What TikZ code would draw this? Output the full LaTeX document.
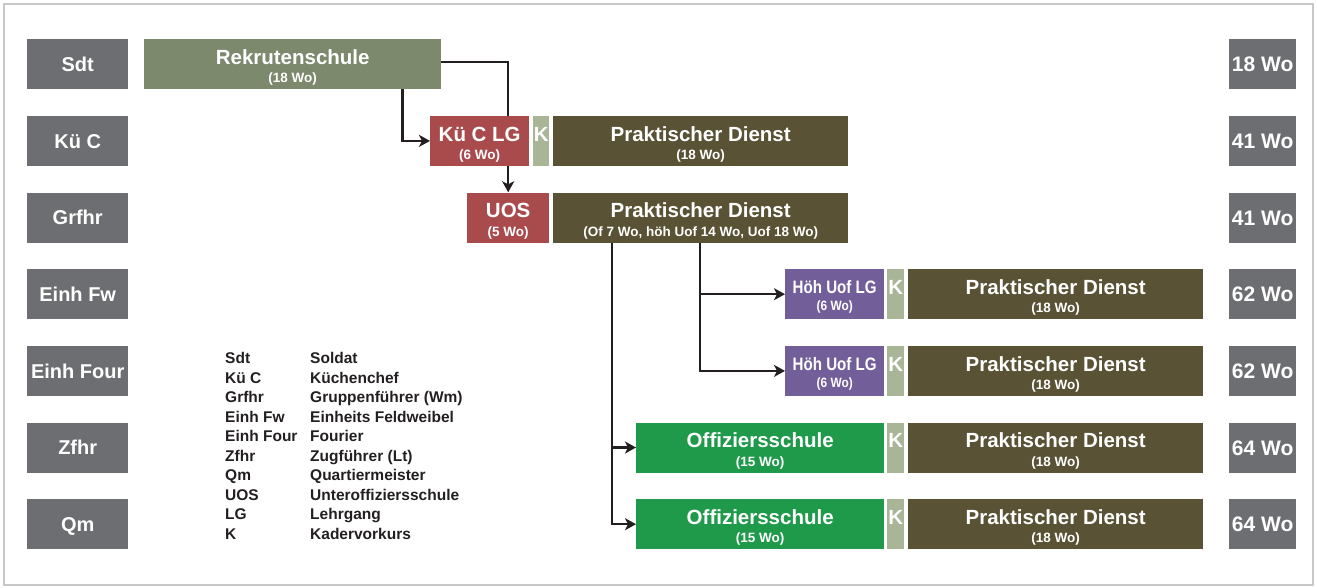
\documentclass[tikz,border=0pt]{standalone}
\usepackage{fontspec}
\setmainfont{Liberation Sans}
\usepackage{graphicx}
\usetikzlibrary{arrows.meta,backgrounds,calc}
\definecolor{lblgray}{HTML}{6D6E71}
\definecolor{rekcol}{HTML}{7D896D}
\definecolor{redcol}{HTML}{A94B4C}
\definecolor{kcol}{HTML}{A8B597}
\definecolor{pdcol}{HTML}{595235}
\definecolor{purcol}{HTML}{725E99}
\definecolor{grncol}{HTML}{1F9A4A}
\definecolor{framecol}{HTML}{C8C8C8}
\definecolor{arrcol}{HTML}{231F20}
\tikzset{
  box/.style={draw=none, inner sep=0pt, minimum height=50pt, anchor=north west},
  lbl/.style={box, fill=lblgray, text=white, font=\fontsize{20}{20}\selectfont\bfseries, text height=14.3pt, text depth=0pt},
  wolbl/.style={box, fill=lblgray, text=white, font=\fontsize{21}{21}\selectfont\bfseries, text height=15pt, text depth=0pt, minimum width=67pt},
  ttl/.style={inner sep=0pt, text=white, font=\fontsize{20.5}{20.5}\selectfont\bfseries, text height=14.7pt, text depth=0pt},
  ttlsmall/.style={inner sep=0pt, text=white, font=\fontsize{18}{18}\selectfont\bfseries, text height=12.9pt, text depth=0pt},
  subt/.style={inner sep=0pt, text=white, font=\fontsize{13.5}{13.5}\selectfont\bfseries, text height=9.7pt, text depth=0pt},
  subsmall/.style={inner sep=0pt, text=white, font=\fontsize{13.5}{13.5}\selectfont\bfseries, text height=9.7pt, text depth=0pt},
  leg/.style={inner sep=0pt, anchor=west, text=arrcol, font=\fontsize{15.5}{15.5}\selectfont\bfseries, text height=11.1pt, text depth=0pt},
  arr/.style={draw=arrcol, line width=2.3pt, -{Stealth[length=11pt,width=12pt,inset=3pt]}},
}
% name, x, top, width, colour, title, sub
\newcommand{\crsbox}[7]{%
  \node[box, fill=#5, minimum width=#4pt] (#1) at (#2,#3) {};
  \node[ttl] (#1t) at ([yshift=-18pt]#1.north) {#6};
  \node[subt] (#1s) at ([yshift=-39pt]#1.north) {#7};
}
\newcommand{\kbox}[4]{%
  \node[box, fill=kcol, minimum width=#4pt] (#1) at (#2,#3) {};
  \node[ttl] (#1t) at ([yshift=-18pt]#1.north) {K};
}
\newcommand{\hoehbox}[3]{%
  \node[box, fill=purcol, minimum width=99pt] (#1) at (#2,#3) {};
  \node[ttlsmall] (#1t) at ([yshift=-18pt]#1.north) {\scalebox{0.84}[1]{Höh Uof LG}};
  \node[subsmall] (#1s) at ([yshift=-37pt]#1.north) {\scalebox{0.88}[1]{(6 Wo)}};
}
\begin{document}
\begin{tikzpicture}[x=1pt,y=-1pt]
\useasboundingbox (0,0) rectangle (1317,587);
\draw[framecol, line width=2pt] (4,4) rectangle (1313,585);

% left labels
\node[lbl, minimum width=101pt] (lsdt) at (27,39) {Sdt};
\node[lbl, minimum width=101pt] (lkuc) at (27,115.7) {Kü C};
\node[lbl, minimum width=101pt] (lgrf) at (27,192.3) {Grfhr};
\node[lbl, minimum width=101pt] (lefw) at (27,269) {Einh Fw};
\node[lbl, minimum width=101pt] (lefo) at (27,345.7) {Einh Four};
\node[lbl, minimum width=101pt] (lzfh) at (27,422.3) {Zfhr};
\node[lbl, minimum width=101pt] (lqm) at (27,499) {Qm};

% right labels
\node[wolbl] (r1) at (1229,39) {18 Wo};
\node[wolbl] (r2) at (1229,115.7) {41 Wo};
\node[wolbl] (r3) at (1229,192.3) {41 Wo};
\node[wolbl] (r4) at (1229,269) {62 Wo};
\node[wolbl] (r5) at (1229,345.7) {62 Wo};
\node[wolbl] (r6) at (1229,422.3) {64 Wo};
\node[wolbl] (r7) at (1229,499) {64 Wo};

% row 0
\crsbox{rek}{144}{39}{297}{rekcol}{Rekrutenschule}{(18 Wo)}
% row 1
\crsbox{kuc}{430}{115.7}{99}{redcol}{Kü C LG}{(6 Wo)}
\kbox{k1}{533}{115.7}{16}
\crsbox{pd1}{553}{115.7}{295}{pdcol}{Praktischer Dienst}{(18 Wo)}
% row 2
\crsbox{uos}{467}{192.3}{82}{redcol}{UOS}{(5 Wo)}
\crsbox{pd2}{553}{192.3}{295}{pdcol}{Praktischer Dienst}{(Of 7 Wo, höh Uof 14 Wo, Uof 18 Wo)}
% rows 3,4
\hoehbox{hu1}{785}{269}
\kbox{k3}{887}{269}{17}
\crsbox{pd3}{908}{269}{295}{pdcol}{Praktischer Dienst}{(18 Wo)}
\hoehbox{hu2}{785}{345.7}
\kbox{k4}{887}{345.7}{17}
\crsbox{pd4}{908}{345.7}{295}{pdcol}{Praktischer Dienst}{(18 Wo)}
% rows 5,6
\crsbox{of1}{636}{422.3}{248}{grncol}{Offiziersschule}{(15 Wo)}
\kbox{k5}{887}{422.3}{17}
\crsbox{pd5}{908}{422.3}{295}{pdcol}{Praktischer Dienst}{(18 Wo)}
\crsbox{of2}{636}{499}{248}{grncol}{Offiziersschule}{(15 Wo)}
\kbox{k6}{887}{499}{17}
\crsbox{pd6}{908}{499}{295}{pdcol}{Praktischer Dienst}{(18 Wo)}

% connectors
\begin{scope}[on background layer]
\draw[arr] ([yshift=2pt]rek.east) -| (uos.north);
\end{scope}
\draw[arr] ([xshift=-39pt]rek.south east) |- (kuc.west);
\draw[arr] ([xshift=59pt]pd2.south west) |- (of1.west);
\draw[arr] ([xshift=59pt]pd2.south west) |- (of2.west);
\draw[arr] ([xshift=147pt]pd2.south west) |- (hu1.west);
\draw[arr] ([xshift=147pt]pd2.south west) |- (hu2.west);

% legend
\node[leg] (a1) at (225,358) {Sdt};       \node[leg] (b1) at (310,358) {Soldat};
\node[leg] (a2) at (225,377.5) {Kü C};    \node[leg] (b2) at (310,377.5) {Küchenchef};
\node[leg] (a3) at (225,397) {Grfhr};     \node[leg] (b3) at (310,397) {Gruppenführer (Wm)};
\node[leg] (a4) at (225,416.5) {Einh Fw}; \node[leg] (b4) at (310,416.5) {Einheits Feldweibel};
\node[leg] (a5) at (225,436) {Einh Four}; \node[leg] (b5) at (310,436) {Fourier};
\node[leg] (a6) at (225,455.5) {Zfhr};    \node[leg] (b6) at (310,455.5) {Zugführer (Lt)};
\node[leg] (a7) at (225,475) {Qm};        \node[leg] (b7) at (310,475) {Quartiermeister};
\node[leg] (a8) at (225,494.5) {UOS};     \node[leg] (b8) at (310,494.5) {Unteroffiziersschule};
\node[leg] (a9) at (225,514) {LG};        \node[leg] (b9) at (310,514) {Lehrgang};
\node[leg] (a10) at (225,533.5) {K};      \node[leg] (b10) at (310,533.5) {Kadervorkurs};
\end{tikzpicture}
\end{document}
